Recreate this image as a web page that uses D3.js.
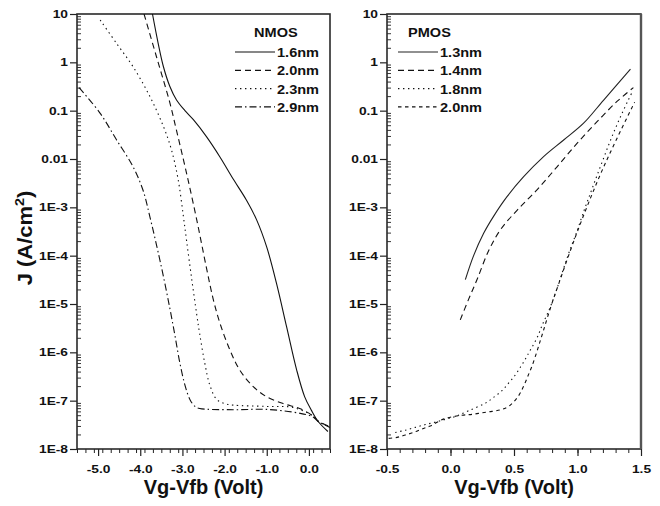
<!DOCTYPE html>
<html><head><meta charset="utf-8">
<script src="https://cdn.jsdelivr.net/npm/d3@7"></script>
<style>body{margin:0;background:#fff}svg{display:block}text{font-family:"Liberation Sans",Arial,sans-serif;font-weight:bold;fill:#111}</style>
</head><body><svg id="c" width="660" height="506"></svg>
<script>
// ---------- data (V in volts, J in A/cm^2) ----------
const yTickValues = [10,1,0.1,0.01,1e-3,1e-4,1e-5,1e-6,1e-7,1e-8];
const yTickLabels = ["10","1","0.1","0.01","1E-3","1E-4","1E-5","1E-6","1E-7","1E-8"];
const nmosXTicks = [-5,-4,-3,-2,-1,0];
const nmosXLabels = ["-5.0","-4.0","-3.0","-2.0","-1.0","0.0"];
const pmosXTicks = [-0.5,0,0.5,1,1.5];
const pmosXLabels = ["-0.5","0.0","0.5","1.0","1.5"];

const nmosNames = ["1.6nm","2.0nm","2.3nm","2.9nm"];
const nmos16V = [-3.71,-3.58,-3.45,-3.30,-3.14,-2.94,-2.74,-2.43,-2.11,-1.80,-1.48,-1.24,-1.00,-0.77,-0.53,-0.29,-0.10,0.06,0.22,0.45];
const nmos16J = [10,2.6,0.81,0.32,0.166,0.1,0.065,0.029,0.011,3.9e-3,1.4e-3,5.5e-4,1.5e-4,2.7e-5,3.4e-6,4.3e-7,1.2e-7,6.3e-8,3.7e-8,2.3e-8];
const nmos20V = [-3.91,-3.61,-3.30,-3.14,-2.90,-2.66,-2.43,-2.27,-2.11,-1.87,-1.64,-1.32,-1.00,-0.61,-0.22,0.10,0.22,0.50];
const nmos20J = [10,1.26,0.148,0.039,5.0e-3,5.5e-4,5.6e-5,1.26e-5,4.0e-6,1.1e-6,4.3e-7,1.95e-7,1.2e-7,8.7e-8,6.9e-8,4.8e-8,3.8e-8,2.9e-8];
const nmos23V = [-4.95,-4.56,-4.17,-3.77,-3.45,-3.26,-3.10,-2.98,-2.90,-2.78,-2.66,-2.59,-2.47,-2.35,-2.19,-2.00,-1.80,-1.00,-0.37,0.10,0.22,0.50];
const nmos23J = [7.5,2.45,0.81,0.195,0.047,0.0155,3.7e-3,6.8e-4,2.0e-4,3.3e-5,6.0e-6,2.4e-6,6.0e-7,2.1e-7,1.07e-7,8.7e-8,8.1e-8,7.6e-8,7.2e-8,4.8e-8,3.7e-8,2.9e-8];
const nmos29V = [-5.45,-4.95,-4.56,-4.17,-3.93,-3.77,-3.61,-3.45,-3.30,-3.18,-3.06,-2.94,-2.82,-2.70,-2.59,-1.80,-1.00,-0.22,0.10,0.22,0.50];
const nmos29J = [0.3,0.088,0.0247,6.9e-3,2.2e-3,6.3e-4,1.6e-4,3.7e-5,8.3e-6,2.3e-6,6.0e-7,2.1e-7,1.05e-7,7.6e-8,6.9e-8,6.5e-8,6.6e-8,5.5e-8,4.6e-8,3.7e-8,2.8e-8];

const pmosNames = ["1.3nm","1.4nm","1.8nm","2.0nm"];
const pmos13V = [0.117,0.182,0.261,0.339,0.445,0.576,0.733,0.891,1.048,1.206,1.417];
const pmos13J = [3.2e-5,1.0e-4,2.9e-4,6.5e-4,1.66e-3,4.3e-3,0.0112,0.0247,0.055,0.166,0.72];
const pmos14V = [0.077,0.143,0.209,0.300,0.392,0.524,0.681,0.839,0.996,1.154,1.311,1.44];
const pmos14J = [4.7e-6,1.26e-5,3.2e-5,1.26e-4,3.4e-4,8.7e-4,2.3e-3,6.9e-3,0.021,0.059,0.155,0.3];
const pmos18V = [-0.435,-0.356,-0.277,-0.198,-0.120,-0.041,0.038,0.143,0.274,0.339,0.406,0.457,0.510,0.550,0.589,0.620,0.654,0.689,0.715,0.741,0.786,0.839,0.886,0.938,0.991,1.048,1.10,1.15,1.20,1.25,1.30,1.35,1.40,1.43];
const pmos18J = [2.2e-8,2.45e-8,2.8e-8,3.2e-8,3.6e-8,4.1e-8,4.7e-8,6.2e-8,8.9e-8,1.17e-7,1.62e-7,2.3e-7,3.4e-7,4.9e-7,7.2e-7,1.02e-6,1.45e-6,2.2e-6,3.3e-6,4.7e-6,8.7e-6,2.1e-5,5.0e-5,1.26e-4,2.95e-4,8.1e-4,1.9e-3,4.3e-3,9.5e-3,0.021,0.044,0.087,0.166,0.24];
const pmos20V = [-0.487,-0.421,-0.356,-0.291,-0.224,-0.159,-0.05,0.091,0.169,0.248,0.327,0.406,0.471,0.536,0.583,0.615,0.642,0.681,0.707,0.735,0.77,0.81,0.86,0.92,1.0,1.1,1.2,1.32,1.45];
const pmos20J = [1.66e-8,1.74e-8,1.95e-8,2.2e-8,2.6e-8,3.0e-8,4.2e-8,5.0e-8,5.2e-8,5.6e-8,6.0e-8,6.6e-8,8.1e-8,1.26e-7,2.2e-7,3.5e-7,5.2e-7,1.05e-6,1.74e-6,3.0e-6,6.0e-6,1.26e-5,3.0e-5,8.5e-5,3.2e-4,1.5e-3,6.3e-3,0.030,0.15];

// ---------- drawing ----------
const svg = d3.select("#c");
const yTop = 14, yBot = 449;
const dashes = {solid:null, dash:"6,4", dot:"1.4,3.6", dashdot:"7,3,1.5,3", short:"3.5,3.5"};
const tickStretch = 1.25, legStretch = 1.12;

function panel(cfg){
  const x = d3.scaleLinear().domain(cfg.xDomain).range([cfg.x0, cfg.x1]);
  const y = d3.scaleLog().domain([1e-8,10]).range([yBot, yTop]);
  const g = svg.append("g");
  const clipId = "clip"+cfg.id;
  svg.append("clipPath").attr("id",clipId).append("rect")
    .attr("x",cfg.x0).attr("y",yTop).attr("width",cfg.x1-cfg.x0).attr("height",yBot-yTop);

  // minor y ticks (inward)
  const minors = [];
  for(let e=-8;e<1;e++) for(let m=2;m<10;m++) minors.push(m*Math.pow(10,e));
  g.append("g").attr("transform",`translate(${cfg.x0},0)`)
    .call(d3.axisRight(y).tickValues(minors).tickSize(4).tickFormat(""))
    .call(s=>s.select(".domain").remove())
    .selectAll("line").attr("stroke","#333");
  // major y ticks (outward)
  const ya = g.append("g").attr("transform",`translate(${cfg.x0},0)`)
    .call(d3.axisLeft(y).tickValues(yTickValues).tickSize(7).tickPadding(2)
      .tickFormat((d,i)=>yTickLabels[i]));
  ya.select(".domain").remove();
  ya.selectAll("line").attr("stroke","#222").attr("stroke-width",1.2);
  ya.selectAll("text").attr("font-size",11).attr("font-family","Liberation Sans, Arial").attr("font-weight","bold").attr("fill","#111")
    .attr("x",-9/tickStretch).attr("transform",`scale(${tickStretch},1)`);

  // x ticks
  const xMinor = d3.range(cfg.xDomain[0], cfg.xDomain[1]+1e-9, cfg.minorStep);
  g.append("g").attr("transform",`translate(0,${yBot})`)
    .call(d3.axisBottom(x).tickValues(xMinor).tickSize(4).tickFormat(""))
    .call(s=>s.select(".domain").remove())
    .selectAll("line").attr("stroke","#222");
  const xa = g.append("g").attr("transform",`translate(0,${yBot})`)
    .call(d3.axisBottom(x).tickValues(cfg.xTicks).tickSize(7).tickPadding(9)
      .tickFormat((d,i)=>cfg.xLabels[i]));
  xa.select(".domain").remove();
  xa.selectAll("line").attr("stroke","#222").attr("stroke-width",1.2);
  xa.selectAll("text").attr("font-size",11).attr("font-family","Liberation Sans, Arial").attr("font-weight","bold").attr("fill","#111")
    .attr("transform",`scale(${tickStretch},1)`);

  // frame
  g.append("rect").attr("x",cfg.x0).attr("y",yTop).attr("width",cfg.x1-cfg.x0).attr("height",yBot-yTop)
    .attr("fill","none").attr("stroke","#2a2a2a").attr("stroke-width",1.6);
  if(cfg.id==="p"){
    g.append("line").attr("x1",cfg.x1).attr("x2",cfg.x1).attr("y1",yTop).attr("y2",yBot)
      .attr("stroke","#555").attr("stroke-width",2.4);
  }

  // curves
  const line = d3.line().x(d=>x(d[0])).y(d=>y(d[1])).curve(d3.curveCatmullRom.alpha(0.5));
  const cg = g.append("g").attr("clip-path",`url(#${clipId})`);
  cfg.series.forEach(s=>{
    const pts = s.V.map((v,i)=>[v,s.J[i]]);
    cg.append("path").attr("d",line(pts)).attr("fill","none")
      .attr("stroke",s.color||"#111").attr("stroke-width",1.1)
      .attr("stroke-dasharray",dashes[s.style]);
  });

  // legend
  const lg = g.append("g");
  lg.append("g").attr("transform",`translate(${cfg.legX+cfg.titleDx},37) scale(${legStretch},1)`)
    .append("text").attr("font-size",13).text(cfg.title);
  cfg.series.forEach((s,i)=>{
    const yy = 52 + i*18.3;
    lg.append("line").attr("x1",cfg.legX).attr("x2",cfg.legX+40).attr("y1",yy).attr("y2",yy)
      .attr("stroke",s.color||"#111").attr("stroke-width",1.2).attr("stroke-dasharray",dashes[s.style]);
    lg.append("g").attr("transform",`translate(${cfg.legX+42},${yy+5}) scale(${legStretch},1)`)
      .append("text").attr("font-size",13).text(s.name);
  });

  // x title
  svg.append("text").attr("x",(cfg.x0+cfg.x1)/2).attr("y",494).attr("text-anchor","middle")
    .attr("font-size",20).text("Vg-Vfb (Volt)");
}

panel({id:"n", x0:77, x1:330, xDomain:[-5.5,0.5], minorStep:0.2,
  xTicks:nmosXTicks, xLabels:nmosXLabels, title:"NMOS", legX:235, titleDx:19,
  series:[
    {name:nmosNames[0],V:nmos16V,J:nmos16J,style:"solid"},
    {name:nmosNames[1],V:nmos20V,J:nmos20J,style:"dash"},
    {name:nmosNames[2],V:nmos23V,J:nmos23J,style:"dot"},
    {name:nmosNames[3],V:nmos29V,J:nmos29J,style:"dashdot"}
  ]});
panel({id:"p", x0:387, x1:641, xDomain:[-0.5,1.5], minorStep:0.1,
  xTicks:pmosXTicks, xLabels:pmosXLabels, title:"PMOS", legX:398, titleDx:10,
  series:[
    {name:pmosNames[0],V:pmos13V,J:pmos13J,style:"solid",color:"#222"},
    {name:pmosNames[1],V:pmos14V,J:pmos14J,style:"dash"},
    {name:pmosNames[2],V:pmos18V,J:pmos18J,style:"dot"},
    {name:pmosNames[3],V:pmos20V,J:pmos20J,style:"short"}
  ]});

// y title
const yt = svg.append("text").attr("transform","translate(32,238) rotate(-90) scale(1.1,1)")
  .attr("text-anchor","middle").attr("font-size",20);
yt.append("tspan").text("J (A/cm");
yt.append("tspan").attr("dy",-8).attr("font-size",13).text("2");
yt.append("tspan").attr("dy",8).text(")");
</script></body></html>
